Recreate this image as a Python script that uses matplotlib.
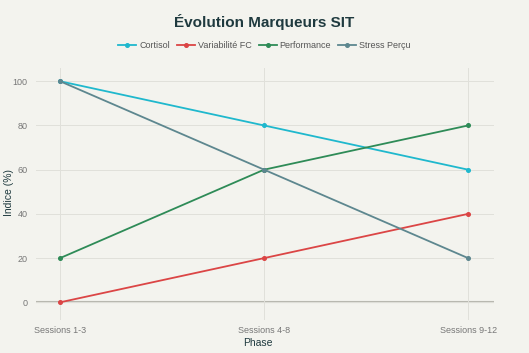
import matplotlib
matplotlib.use("Agg")
from matplotlib import pyplot as plt

phases = ["Sessions 1-3", "Sessions 4-8", "Sessions 9-12"]
cortisol = [100, 80, 60]
variabilite = [0, 20, 40]
performance = [20, 60, 80]
stress = [100, 60, 20]

series = [
    ("Cortisol", cortisol, "#1FB8CD"),
    ("Variabilité FC", variabilite, "#DB4545"),
    ("Performance", performance, "#2E8B57"),
    ("Stress Perçu", stress, "#5D878F"),
]

BG = "#f3f3ee"
TXT = "#1f3a3f"

plt.rcParams["font.family"] = ["Liberation Sans", "DejaVu Sans"]

fig = plt.figure(figsize=(5.29, 3.53), dpi=100, facecolor=BG)
ax = fig.add_axes([36 / 529, 1 - 320 / 353, 458 / 529, 252 / 353])
ax.set_facecolor(BG)

x = list(range(len(phases)))
for name, vals, col in series:
    ax.plot(x, vals, color=col, lw=1.3, marker="o", ms=2.6, label=name)

ax.axhline(0, color="#b8b8b0", lw=1.5, zorder=0.5)
ax.set_xlim(-0.118, 2.127)
ax.set_ylim(-8, 106)
ax.set_xticks(x)
ax.set_xticklabels(phases)
ax.set_yticks([0, 20, 40, 60, 80, 100])
ax.grid(True, color="#e0e0da", lw=0.7)
ax.set_axisbelow(True)
for s in ax.spines.values():
    s.set_visible(False)
ax.tick_params(length=0, labelsize=6.5, colors="#777777", pad=4)
ax.tick_params(axis="y", pad=6)

fig.text(258 / 529, 1 - 343 / 353, "Phase", ha="center", va="center",
         fontsize=7.5, color=TXT)
fig.text(9 / 529, 1 - 193 / 353, "Indice (%)", ha="center", va="center",
         rotation=90, fontsize=7.5, color=TXT)
fig.text(0.5, 1 - 22 / 353, "Évolution Marqueurs SIT", ha="center", va="center",
         fontsize=11, fontweight="bold", color=TXT)
fig.legend(loc="center", bbox_to_anchor=(0.5, 1 - 46 / 353), ncol=4, frameon=False,
           fontsize=6.5, handlelength=2, columnspacing=0.8, handletextpad=0.3,
           labelcolor="#555555")

fig.savefig("out.png", dpi=100, facecolor=BG)
